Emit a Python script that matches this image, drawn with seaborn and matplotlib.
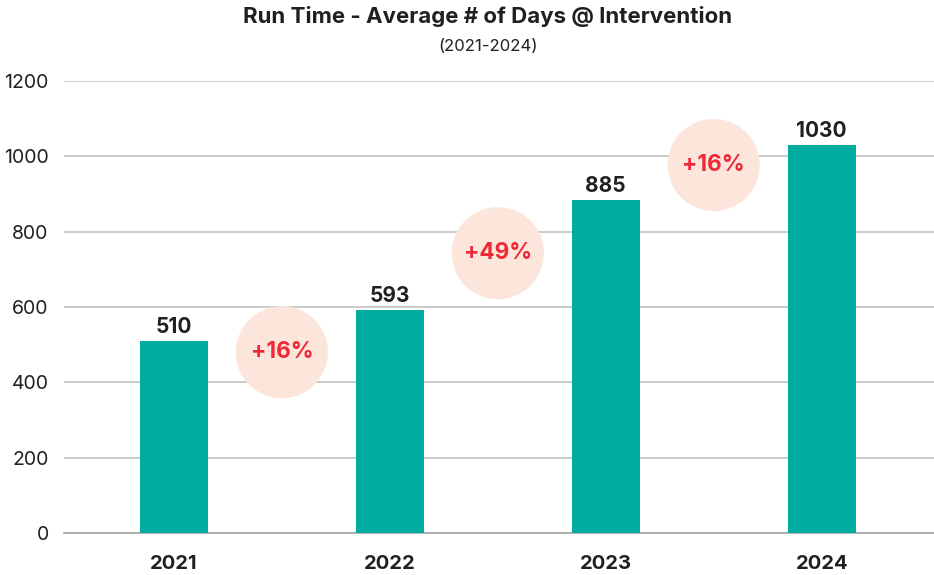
import pandas as pd
import matplotlib
matplotlib.use("Agg")
import matplotlib.pyplot as plt
import seaborn as sns

years = ["2021", "2022", "2023", "2024"]
avg_days = [510, 593, 885, 1030]
growth_labels = ["+16%", "+49%", "+16%"]
growth_y = [480, 743, 977]
yticks = [0, 200, 400, 600, 800, 1000, 1200]

sns.set_theme(style="white")
plt.rcParams['font.family'] = ['Inter', 'DejaVu Sans']

df = pd.DataFrame({"year": years, "days": avg_days})

fig = plt.figure(figsize=(9.34, 5.75), dpi=100)
ax = fig.add_axes([0.0685, 0.073, 0.9315, 0.786])

sns.barplot(data=df, x="year", y="days", color="#00AB9F", width=0.315,
            saturation=1, ax=ax, zorder=3, edgecolor="none")

ax.set_ylim(0, 1200)
ax.set_xlim(-0.509, 3.52)
ax.set_yticks(yticks)
ax.set_yticklabels([str(t) for t in yticks], fontsize=14, color="#231F20")
ax.tick_params(axis="y", length=0, pad=11)
ax.tick_params(axis="x", length=0, pad=16)
for lbl in ax.get_xticklabels():
    lbl.set_fontweight("bold")
    lbl.set_fontsize(14.5)
    lbl.set_color("#231F20")
ax.set_xlabel("")
ax.set_ylabel("")
ax.yaxis.grid(True, color="#BDBDBD", linewidth=1.1, zorder=0)
ax.set_axisbelow(True)
for s in ["top", "right", "left"]:
    ax.spines[s].set_visible(False)
ax.spines["bottom"].set_color("#A8A8A8")
ax.spines["bottom"].set_linewidth(1.2)

# value labels
for i, v in enumerate(avg_days):
    ax.annotate(str(v), (i, v), xytext=(0, 3), textcoords="offset points",
                ha="center", va="bottom", fontsize=15, fontweight="bold",
                color="#231F20")

# growth bubbles
for i, (lab, gy) in enumerate(zip(growth_labels, growth_y)):
    ax.scatter([i + 0.5], [gy], s=4400, color="#FCE6DC", zorder=4,
               edgecolors="none", clip_on=False)
    ax.text(i + 0.5, gy, lab, ha="center", va="center", fontsize=16.3,
            fontweight="bold", color="#EE2A36", zorder=5)

fig.text(0.522, 0.972, "Run Time - Average # of Days @ Intervention",
         ha="center", va="center", fontsize=16, fontweight="bold",
         color="#231F20")
fig.text(0.522, 0.919, "(2021-2024)", ha="center", va="center",
         fontsize=12, color="#231F20")

fig.savefig("out.png", dpi=100)
